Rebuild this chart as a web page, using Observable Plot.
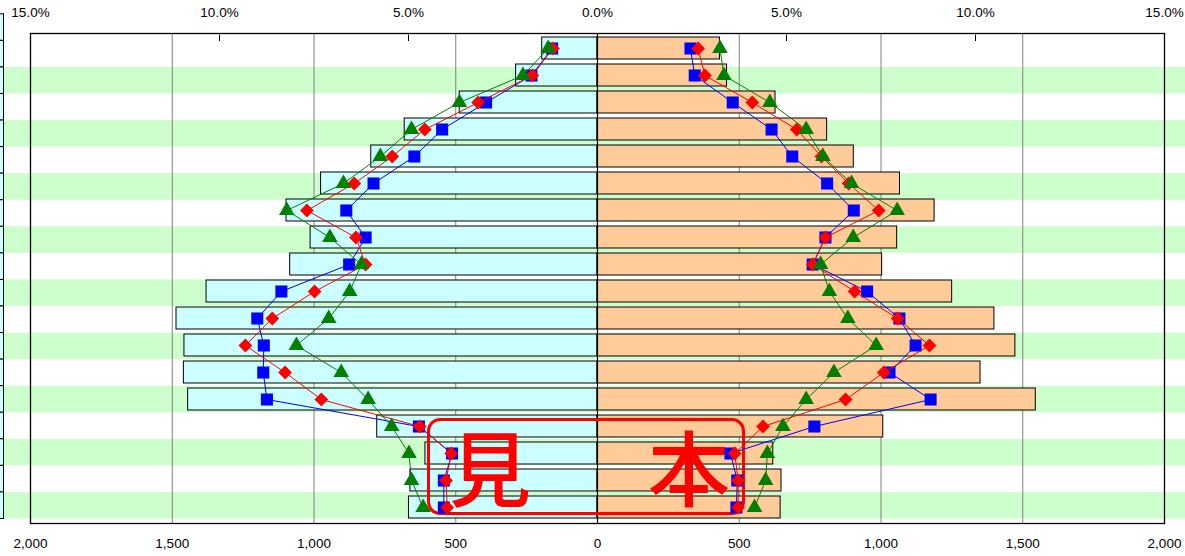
<!DOCTYPE html>
<html>
<head>
<meta charset="utf-8">
<script src="https://cdn.jsdelivr.net/npm/d3@7"></script>
<script src="https://cdn.jsdelivr.net/npm/@observablehq/plot@0.6"></script>
<style>
  html, body { margin: 0; padding: 0; background: #fff; }
  #wrap { position: relative; width: 1185px; height: 556px; overflow: hidden; }
  #wrap > svg { position: absolute; left: 0; top: 0; }
  #stamp {
    position: absolute; left: 427px; top: 418px; width: 318px; height: 97px;
    box-sizing: border-box; border: 3.5px solid #ff0000; border-radius: 13px;
  }
  #stamp span {
    position: absolute; top: 3px; width: 100px; text-align: center;
    font-family: "Noto Sans CJK JP", sans-serif; font-weight: 500;
    font-size: 82px; line-height: 82px; color: #ff0000;
  }
</style>
</head>
<body>
<div id="wrap"></div>
<script>
// Age groups, top row to bottom row
const ages = ["85+","80-84","75-79","70-74","65-69","60-64","55-59","50-54","45-49",
              "40-44","35-39","30-34","25-29","20-24","15-19","10-14","5-9","0-4"];

// Bars (population counts)
const maleBars   = [195, 287, 486, 680, 798, 975, 1097, 1012, 1084, 1379, 1485, 1457, 1459, 1444, 777, 607, 660, 665];
const femaleBars = [432, 457, 628, 810, 904, 1067, 1189, 1057, 1004, 1251, 1400, 1474, 1351, 1546, 1008, 620, 649, 646];

// Comparison series (blue squares, red diamonds, green triangles)
const maleBlue    = [160, 233, 393, 548, 646, 790, 886, 818, 876, 1115, 1200, 1177, 1179, 1166, 630, 513, 542, 542];
const maleRed     = [157, 230, 421, 609, 724, 858, 1025, 852, 818, 998, 1147, 1242, 1102, 974, 627, 516, 534, 530];
const maleGreen   = [174, 263, 487, 656, 766, 896, 1096, 944, 833, 874, 948, 1062, 904, 809, 726, 665, 656, 615];
const femaleBlue  = [328, 343, 477, 614, 687, 810, 904, 804, 759, 951, 1065, 1122, 1030, 1175, 765, 469, 493, 490];
const femaleRed   = [355, 379, 546, 703, 790, 886, 992, 804, 759, 907, 1059, 1171, 1010, 875, 584, 484, 496, 496];
const femaleGreen = [432, 446, 608, 736, 795, 896, 1057, 902, 787, 818, 883, 983, 834, 736, 654, 599, 593, 554];

// Axis ticks
const countTicks = [-2000, -1500, -1000, -500, 0, 500, 1000, 1500, 2000];
const gridTicks  = [-1500, -1000, -500, 500, 1000, 1500];
const pctTicks   = [-15, -10, -5, 0, 5, 10, 15];   // percent labels on top
const pctMinor   = [-10, -5, 5, 10];               // small inward ticks on top
const fullScale  = 2000;  // count corresponding to 15.0%
const fullPct    = 15;

// Background stripe bands (19 bands, green every other one from the third)
const stripeBands = d3.range(19);

const rows = (vals, sign) => vals.map((v, i) => ({age: ages[i], v: sign * v}));

const fmtCount = d => d3.format(",")(Math.abs(d));
const fmtPct = d => Math.abs(d).toFixed(1) + "%";
const pctToX = p => p / fullPct * fullScale;

const wrap = document.getElementById("wrap");

// Background stripes layer
const bgPlot = Plot.plot({
  width: 1185, height: 556,
  margin: 0,
  style: {background: "transparent"},
  x: {domain: [0, 1185], range: [0, 1185], axis: null},
  y: {domain: [0, 19], range: [13.8, 518.5], axis: null},
  marks: [
    Plot.rect(stripeBands.filter(i => i >= 2 && i % 2 === 0), {
      x1: 0, x2: 1185, y1: d => d, y2: d => d + 1, fill: "#ccffcc"
    }),
    Plot.rect(stripeBands, {
      x1: -2, x2: 3.5, y1: d => d, y2: d => d + 1,
      fill: "#ccffff", stroke: "#000", strokeWidth: 1
    })
  ]
});
wrap.appendChild(bgPlot);

const common = {
  width: 1185, height: 556,
  marginLeft: 30, marginRight: 21, marginTop: 33, marginBottom: 33,
  style: {background: "transparent", fontFamily: "'Liberation Sans', Arial, sans-serif", fontSize: "13.5px", color: "#000", overflow: "visible"},
  x: {domain: [-fullScale, fullScale], label: null},
  y: {type: "band", domain: ages, paddingInner: 0.18, paddingOuter: 0.09, axis: null}
};

// Bars, grid, axes
const mainPlot = Plot.plot({
  ...common,
  marks: [
    Plot.ruleX(gridTicks, {stroke: "#808080", strokeWidth: 1}),
    Plot.barX(rows(maleBars, -1), {x1: 0, x2: "v", y: "age", fill: "#ccffff", stroke: "#000", strokeWidth: 1}),
    Plot.barX(rows(femaleBars, 1), {x1: 0, x2: "v", y: "age", fill: "#ffcc99", stroke: "#000", strokeWidth: 1}),
    Plot.ruleX([0], {stroke: "#000", strokeWidth: 1.2}),
    Plot.tickX(pctMinor.map(pctToX), {x: d => d, y: () => ages[0], stroke: "#000", strokeWidth: 1, insetTop: -2.5, insetBottom: 18}),
    Plot.axisX(countTicks, {anchor: "bottom", label: null, tickSize: 0, tickPadding: 15, tickFormat: fmtCount, fontSize: 13.5}),
    Plot.axisX(pctTicks.map(pctToX), {anchor: "top", label: null, tickSize: 0, tickPadding: 17, tickFormat: d => fmtPct(d / fullScale * fullPct), fontSize: 13.5}),
    Plot.frame({stroke: "#000", strokeWidth: 1.3})
  ]
});
wrap.appendChild(mainPlot);

// "見本" (sample) stamp
const stamp = document.createElement("div");
stamp.id = "stamp";
stamp.innerHTML = '<span style="left:10px">見</span><span style="left:209px">本</span>';
wrap.appendChild(stamp);

// Series lines and markers on top
const series = [
  {m: maleBlue, f: femaleBlue, color: "#0000ff", symbol: "square", r: 6.8},
  {m: maleRed, f: femaleRed, color: "#ff0000", symbol: "diamond2", r: 6.2},
  {m: maleGreen, f: femaleGreen, color: "#008000", symbol: "triangle", r: 5.8}
];
const seriesMarks = [];
for (const s of series) {
  for (const [vals, sign] of [[s.m, -1], [s.f, 1]]) {
    const data = rows(vals, sign);
    seriesMarks.push(Plot.line(data, {x: "v", y: "age", stroke: s.color, strokeWidth: 1}));
    seriesMarks.push(Plot.dot(data, {x: "v", y: "age", symbol: s.symbol, r: s.r, fill: s.color, stroke: "none"}));
  }
}
const markerPlot = Plot.plot({
  ...common,
  x: {...common.x, axis: null},
  marks: seriesMarks
});
wrap.appendChild(markerPlot);
</script>
</body>
</html>
